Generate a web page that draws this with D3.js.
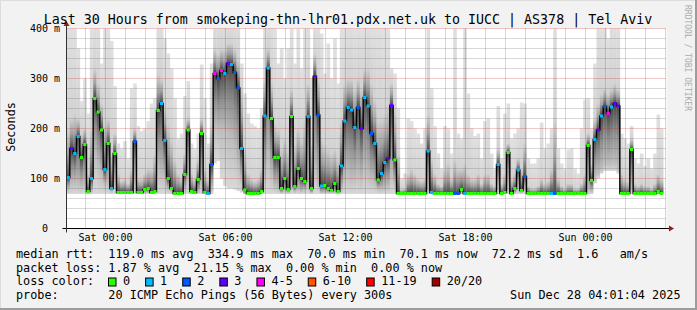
<!DOCTYPE html>
<html>
<head>
<meta charset="utf-8">
<script src="https://cdn.jsdelivr.net/npm/d3@7"></script>
<style>
  body { margin: 0; background: #f2f2f2; }
  svg { display: block; }
  text { font-family: "DejaVu Sans Mono", monospace; fill: #000; white-space: pre; }
</style>
</head>
<body>
<svg id="chart" width="697" height="310"></svg>
<script>
// ---------------------------------------------------------------
// data (10 minute steps)
// ---------------------------------------------------------------
const title = "Last 30 Hours from smokeping-thn-lhr01.pdx.net.uk to IUCC | AS378 | Tel Aviv";
const startTime = new Date(2025, 11, 26, 22, 3);
const stepMinutes = 10;

// median rtt in ms
const median = [
  102,160,150,184,142,168,74,100,260,233,197,118,170,80,150,72,72,72,72,72,
  174,72,72,78,80,72,74,236,250,176,100,80,70,70,70,108,197,74,72,98,
  190,72,70,128,310,300,316,310,330,328,312,281,160,77,70,70,70,70,74,225,
  321,220,142,142,80,100,78,224,84,120,100,94,224,80,304,227,85,86,80,76,
  90,74,125,215,242,237,202,242,200,262,245,190,170,97,110,132,140,246,137,70,
  70,70,70,70,70,70,70,70,155,72,70,70,70,70,70,70,70,70,78,70,
  70,70,70,70,70,70,70,70,70,128,70,72,152,70,80,117,76,104,70,70,
  70,70,70,70,70,70,70,70,70,70,70,70,70,70,70,70,166,96,178,197,
  225,244,230,243,250,245,70,70,70,158,70,70,70,70,70,70,70,74,70,null
];

// lost pings out of 20
const lossCount = [
  1,3,1,1,0,0,0,1,0,0,0,1,0,1,0,0,0,0,0,0,
  2,0,0,0,0,0,0,0,1,1,0,0,0,0,0,0,0,0,0,0,
  0,0,1,2,4,2,4,1,3,1,2,2,1,0,0,0,0,0,0,1,
  1,0,0,0,0,0,0,0,0,0,0,0,1,0,3,2,1,0,0,0,
  0,0,1,1,1,1,1,2,3,1,1,2,1,0,1,1,3,3,0,0,
  0,0,0,0,0,0,0,0,1,1,0,0,0,0,0,0,2,2,0,1,
  0,0,0,0,0,0,0,0,0,1,0,0,0,0,0,1,0,2,0,0,
  0,0,0,0,0,1,2,0,0,0,0,0,0,0,0,0,0,0,1,3,
  1,2,4,1,3,3,0,0,0,0,0,0,0,0,0,0,0,0,0,null
];

// smoke: fastest ping, lower dark edge, upper dark edge, slowest ping (ms)
const smokeLo = [
  69,69,69,69,69,69,69,69,69,69,69,69,69,69,69,69,69,69,69,69,
  69,69,69,69,69,69,69,69,69,69,69,69,69,69,69,69,69,69,69,69,
  69,69,69,69,130,135,100,85,80,80,78,75,72,69,69,69,69,69,69,69,
  69,69,69,69,69,69,69,69,69,69,69,69,69,69,69,69,69,69,69,69,
  69,69,69,69,69,69,69,69,69,69,69,69,69,69,69,69,69,69,69,69,
  69,69,69,69,69,69,69,69,69,69,69,69,69,69,69,69,69,69,69,69,
  69,69,69,69,69,69,69,69,69,69,69,69,69,69,69,69,69,69,69,69,
  69,69,69,69,69,69,69,69,69,69,69,69,69,69,69,69,69,69,90,100,
  110,115,115,115,115,110,69,69,69,69,69,69,69,69,69,69,69,69,69,null
];
const smokeDarkLo = [
  80,90,90,90,85,85,70,75,150,130,110,90,90,75,90,70,70,70,70,70,
  90,70,70,72,72,70,70,120,110,100,80,75,70,70,70,80,100,70,70,75,
  90,70,70,80,200,200,200,190,190,180,160,130,100,70,70,70,70,70,70,100,
  150,110,85,80,72,75,72,90,75,80,75,78,90,72,120,90,72,72,72,72,
  72,70,80,100,110,100,100,110,100,120,110,100,90,80,80,80,85,110,90,70,
  70,70,70,70,70,70,70,70,80,70,70,70,70,70,70,70,70,70,72,70,
  70,70,70,70,70,70,70,70,70,80,70,70,85,70,72,80,72,80,70,70,
  70,70,70,70,70,70,70,70,70,70,70,70,70,70,70,70,80,75,100,110,
  120,130,130,130,130,120,70,70,70,80,70,70,70,70,70,70,70,70,70,null
];
const smokeDarkHi = [
  200,220,230,220,190,200,110,200,320,290,250,210,220,150,190,110,95,100,90,120,
  200,100,100,110,120,120,150,310,300,240,210,180,140,110,100,150,220,110,100,140,
  220,120,100,210,360,350,360,360,370,370,360,340,280,160,110,100,95,100,120,300,
  360,290,210,200,160,180,160,280,170,200,180,220,290,170,350,300,180,170,160,150,
  160,140,220,290,300,300,280,300,280,320,320,290,260,220,220,230,250,290,240,150,
  78,80,110,120,110,100,95,100,230,140,110,90,85,120,130,100,140,120,120,130,
  110,100,100,110,90,110,110,90,85,160,90,110,170,100,110,140,120,170,85,80,
  80,85,100,90,95,120,220,100,85,80,90,90,80,80,90,110,190,130,220,250,
  270,280,270,280,290,280,110,100,95,180,90,85,90,85,85,80,90,110,100,null
];
const smokeHi = [
  420,420,420,360,255,300,230,400,420,410,330,400,400,375,285,170,160,175,140,280,
  290,205,195,200,215,250,260,420,420,380,350,320,260,180,190,265,295,170,160,190,
  328,260,170,330,420,420,420,420,420,420,420,420,330,270,230,210,205,200,240,420,
  420,420,400,330,360,300,360,400,330,400,320,400,420,300,420,420,390,310,370,300,
  380,290,400,410,420,420,400,410,400,420,420,420,420,420,400,410,400,320,310,240,
  100,110,220,215,200,190,170,200,420,280,205,150,120,205,200,150,420,190,180,420,
  270,200,185,190,140,215,220,150,120,245,140,230,250,180,190,200,252,250,140,130,
  130,140,212,160,170,200,420,160,130,120,158,160,120,110,200,258,260,200,330,420,
  400,420,380,420,420,410,190,180,170,205,140,130,150,125,140,120,150,228,200,null
];

const yTicks = [0, 100, 200, 300, 400];
const yTickLabels = ["0  ", "100 m", "200 m", "300 m", "400 m"];
const xTickTimes = [
  new Date(2025, 11, 27, 0), new Date(2025, 11, 27, 6), new Date(2025, 11, 27, 12),
  new Date(2025, 11, 27, 18), new Date(2025, 11, 28, 0)
];

const lossLabels = ["0", "1", "2", "3", "4-5", "6-10", "11-19", "20/20"];
const lossUpper  = [0, 1, 2, 3, 5, 10, 19, 20];
const lossColors = ["#26ff00", "#00b8ff", "#0059ff", "#5e00ff", "#ff00ff", "#ff5500", "#ff0000", "#a00000"];

const statLines = [
  "median rtt:  119.0 ms avg  334.9 ms max  70.0 ms min  70.1 ms now  72.2 ms sd  1.6   am/s",
  "packet loss: 1.87 % avg  21.15 % max  0.00 % min  0.00 % now"
];
const probeLine = "probe:       20 ICMP Echo Pings (56 Bytes) every 300s";
const dateLine = "Sun Dec 28 04:01:04 2025";

// ---------------------------------------------------------------
// setup
// ---------------------------------------------------------------
const W = 697, H = 310;
const plot = { left: 66.5, right: 666.5, top: 28.5, bottom: 228.5 };

const svg = d3.select("#chart");

const endTime = d3.timeHour.offset(startTime, 30);
const x = d3.scaleTime().domain([startTime, endTime]).range([plot.left, plot.right]);
const y = d3.scaleLinear().domain([0, 400]).range([plot.bottom, plot.top]);

const steps = median.map((m, i) => ({
  t0: d3.timeMinute.offset(startTime, i * stepMinutes),
  t1: d3.timeMinute.offset(startTime, (i + 1) * stepMinutes),
  med: m,
  loss: lossCount[i],
  lo: smokeLo[i], dlo: smokeDarkLo[i], dhi: smokeDarkHi[i], hi: smokeHi[i]
})).filter(d => d.med != null);

const lossIndex = c => lossUpper.findIndex(u => c <= u);

// background + rrdtool style shaded frame
svg.append("rect").attr("width", W).attr("height", H).attr("fill", "#f2f2f2");
svg.append("rect").attr("x", 0).attr("y", 0).attr("width", W).attr("height", 1).attr("fill", "#dcdcdc");
svg.append("rect").attr("x", 0).attr("y", 0).attr("width", 1).attr("height", H).attr("fill", "#dcdcdc");
svg.append("rect").attr("x", W - 2).attr("y", 0).attr("width", 2).attr("height", H).attr("fill", "#9c9c9c");
svg.append("rect").attr("x", 0).attr("y", H - 2).attr("width", W).attr("height", 2).attr("fill", "#9c9c9c");

// canvas
svg.append("rect")
  .attr("x", plot.left).attr("y", plot.top)
  .attr("width", plot.right - plot.left).attr("height", plot.bottom - plot.top)
  .attr("fill", "#fff");

const defs = svg.append("defs");
defs.append("clipPath").attr("id", "plotclip")
  .append("rect")
  .attr("x", plot.left).attr("y", plot.top)
  .attr("width", plot.right - plot.left).attr("height", plot.bottom - plot.top);

// ---------------------------------------------------------------
// smoke: one column per step, light at the edges, dark at the median
// ---------------------------------------------------------------
steps.forEach((d, i) => {
  const span = d.hi - d.lo;
  const off = v => Math.max(0, Math.min(1, (d.hi - v) / span));
  const g = defs.append("linearGradient").attr("id", "smoke" + i)
    .attr("x1", 0).attr("y1", 0).attr("x2", 0).attr("y2", 1);
  [
    [d.hi, "#e0e0e0"],
    [d.dhi, "#d2d2d2"],
    [(d.dhi + d.med) / 2, "#a0a0a0"],
    [d.med, "#474747"],
    [(d.med + d.dlo) / 2, "#8e8e8e"],
    [d.dlo, "#bdbdbd"],
    [d.lo, "#d8d8d8"]
  ].forEach(([v, c]) => g.append("stop").attr("offset", off(v)).attr("stop-color", c));
});

const smoke = svg.append("g").attr("clip-path", "url(#plotclip)");
smoke.selectAll("rect")
  .data(steps)
  .join("rect")
  .attr("x", d => x(d.t0))
  .attr("width", d => x(d.t1) - x(d.t0) + 0.3)
  .attr("y", d => y(d.hi))
  .attr("height", d => y(d.lo) - y(d.hi))
  .attr("fill", (d, i) => `url(#smoke${i})`);

// ---------------------------------------------------------------
// grid (drawn over the smoke like rrdtool does)
// ---------------------------------------------------------------
const minorCol = "rgba(100,100,100,0.5)", majorCol = "rgba(205,40,40,0.5)";
const grid = svg.append("g").attr("stroke-dasharray", "1,1").attr("stroke-width", 1);
const minorY = d3.range(20, 401, 20).filter(v => v % 100 !== 0);
grid.selectAll(".gy").data(minorY).join("line")
  .attr("x1", plot.left).attr("x2", plot.right)
  .attr("y1", d => y(d)).attr("y2", d => y(d))
  .attr("stroke", minorCol);
const hours = d3.timeHour.range(d3.timeHour.ceil(startTime), endTime);
grid.selectAll(".gx").data(hours.filter(h => h.getHours() % 3 !== 0)).join("line")
  .attr("x1", d => x(d)).attr("x2", d => x(d))
  .attr("y1", plot.top).attr("y2", plot.bottom)
  .attr("stroke", minorCol);
grid.selectAll(".my").data(yTicks.filter(v => v > 0)).join("line")
  .attr("x1", plot.left).attr("x2", plot.right)
  .attr("y1", d => y(d)).attr("y2", d => y(d))
  .attr("stroke", majorCol);
grid.selectAll(".mx").data(hours.filter(h => h.getHours() % 3 === 0)).join("line")
  .attr("x1", d => x(d)).attr("x2", d => x(d))
  .attr("y1", plot.top).attr("y2", plot.bottom)
  .attr("stroke", majorCol);

// ---------------------------------------------------------------
// median line, black steps + loss coloured segments
// ---------------------------------------------------------------
const medLine = d3.line()
  .x(d => x(d.t0))
  .y(d => y(d.med))
  .curve(d3.curveStepAfter);
svg.append("path")
  .datum(steps)
  .attr("d", medLine)
  .attr("fill", "none")
  .attr("stroke", "#000")
  .attr("stroke-width", 1.4);

svg.append("g").selectAll("line")
  .data(steps)
  .join("line")
  .attr("x1", d => x(d.t0)).attr("x2", d => x(d.t1))
  .attr("y1", d => y(d.med)).attr("y2", d => y(d.med))
  .attr("stroke", d => lossColors[lossIndex(d.loss)])
  .attr("stroke-width", 3);

// ---------------------------------------------------------------
// axes with arrows
// ---------------------------------------------------------------
svg.append("line").attr("x1", plot.left - 4).attr("x2", plot.right + 4)
  .attr("y1", plot.bottom).attr("y2", plot.bottom).attr("stroke", "#000");
svg.append("line").attr("x1", plot.left).attr("x2", plot.left)
  .attr("y1", plot.bottom + 4).attr("y2", plot.top - 4).attr("stroke", "#333");
svg.append("path")
  .attr("d", `M${plot.right + 2.5},${plot.bottom - 3}L${plot.right + 7.5},${plot.bottom}L${plot.right + 2.5},${plot.bottom + 3}Z`)
  .attr("fill", "#9a1a1a");
svg.append("path")
  .attr("d", `M${plot.left - 3},${plot.top - 2.5}L${plot.left},${plot.top - 7.5}L${plot.left + 3},${plot.top - 2.5}Z`)
  .attr("fill", "#9a1a1a");

// tick labels
svg.append("g").selectAll("text")
  .data(yTicks)
  .join("text")
  .attr("x", 60)
  .attr("y", d => y(d) + 3.5)
  .attr("text-anchor", "end")
  .attr("xml:space", "preserve")
  .style("font-size", "10px")
  .text((d, i) => yTickLabels[i]);

const fmt = d3.timeFormat("%a %H:%M");
svg.append("g").selectAll("text")
  .data(xTickTimes)
  .join("text")
  .attr("x", d => x(d))
  .attr("y", 240.5)
  .attr("text-anchor", "middle")
  .style("font-size", "10px")
  .text(d => fmt(d));

// titles
svg.append("text")
  .attr("x", 348).attr("y", 23.5)
  .attr("text-anchor", "middle")
  .style("font-size", "13.3px")
  .text(title);

svg.append("text")
  .attr("transform", "translate(15,127) rotate(-90)")
  .attr("text-anchor", "middle")
  .style("font-size", "11.8px")
  .text("Seconds");

svg.append("text")
  .attr("transform", "translate(685,5) rotate(90)")
  .style("font-size", "8px")
  .style("fill", "#ababab")
  .text("RRDTOOL / TOBI OETIKER");

// ---------------------------------------------------------------
// legend
// ---------------------------------------------------------------
const legend = svg.append("g").style("font-size", "11.8px");
statLines.forEach((s, i) => {
  legend.append("text").attr("x", 16).attr("y", 258 + i * 13.5)
    .attr("xml:space", "preserve").text(s);
});
legend.append("text").attr("x", 16).attr("y", 285).text("loss color:");

let bx = 108.5;
lossLabels.forEach((lab, i) => {
  legend.append("rect")
    .attr("x", bx).attr("y", 278)
    .attr("width", 7.5).attr("height", 8)
    .attr("fill", lossColors[i])
    .attr("stroke", "#000");
  const t = legend.append("text").attr("x", bx + 14.5).attr("y", 285).text(lab);
  bx += 14.5 + t.node().getComputedTextLength() + 15.5;
});

legend.append("text").attr("x", 16).attr("y", 298.5)
  .attr("xml:space", "preserve").text(probeLine);
legend.append("text").attr("x", 680.5).attr("y", 298.5)
  .attr("text-anchor", "end").text(dateLine);
</script>
</body>
</html>
